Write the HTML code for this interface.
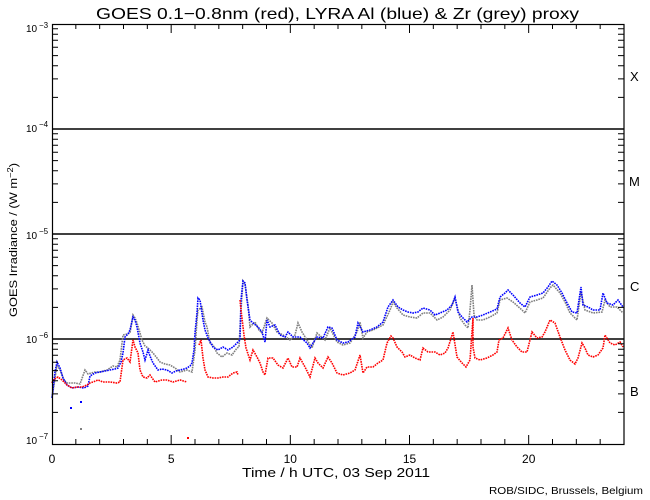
<!DOCTYPE html>
<html>
<head>
<meta charset="utf-8">
<style>
html,body{margin:0;padding:0;background:#fff;}
svg{display:block;}
text{font-family:"Liberation Sans",sans-serif;fill:#000;}
</style>
</head>
<body>
<svg width="650" height="500" viewBox="0 0 650 500" xmlns="http://www.w3.org/2000/svg">
<rect width="650" height="500" fill="#fff"/>

<!-- Title -->
<text x="96" y="19" font-size="16" textLength="483" lengthAdjust="spacingAndGlyphs">GOES 0.1−0.8nm (red), LYRA Al (blue) &amp; Zr (grey) proxy</text>

<!-- Decade lines -->
<g stroke="#000" stroke-width="1.6">
<line x1="52" y1="129" x2="624" y2="129"/>
<line x1="52" y1="234" x2="624" y2="234"/>
<line x1="52" y1="339" x2="624" y2="339"/>
</g>

<!-- Data -->
<g fill="none" stroke-width="1.6" stroke-dasharray="1.6 0.9">
<polyline stroke="#7f7f7f" points="52,397 54,385 57,365 60,370 64,380 67,383 75,383 80,384 85,370 88,374 95,372 100,372 107,370 113,366 117,367 120,360 123,335 127,334 130,333 133,315 135,318 137,323 140,333 142,340 145,346 148,348 153,353 157,358 160,362 165,364 170,365 175,368 180,372 187,370 192,372 195,350 197,320 198,310 202,307 205,322 207,327 210,343 213,345 217,353 222,357 227,353 232,355 237,348 239,347 241,310 243,281 245,284 248,305 250,327 255,322 259,330 262,333 267,318 272,323 277,332 283,335 290,340 295,335 298,323 302,332 307,340 312,348 317,333 325,340 330,328 337,342 343,345 350,343 357,332 360,322 363,338 367,332 373,330 383,325 390,310 393,302 397,308 403,315 410,317 417,318 423,313 430,313 437,320 443,317 450,310 455,298 460,318 465,325 468,328 470,310 472,285 474,315 477,320 483,320 490,317 497,313 500,300 507,298 513,302 522,310 525,313 530,302 537,300 543,298 550,288 553,285 560,293 565,302 570,313 577,320 581,292 585,310 593,313 602,312 605,300 610,307 617,307 623,313"/>
<polyline stroke="#0000ff" points="52,398 53,390 55,372 57,362 60,368 63,378 67,385 72,388 78,387 84,388 88,386 90,376 95,373 100,372 105,371 110,370 115,369 118,368 121,362 123,353 125,337 128,334 130,330 133,317 135,320 137,327 140,343 143,352 145,360 148,350 150,356 153,363 158,370 162,369 167,370 172,373 176,371 180,370 184,369 187,368 190,366 192,363 194,350 195,333 197,313 198,298 200,300 203,320 205,330 208,338 213,347 218,350 223,347 228,350 233,347 238,342 240,340 241,300 243,281 245,283 247,300 250,320 253,323 258,327 262,332 265,342 267,320 270,327 275,325 280,335 285,337 288,332 293,337 300,337 307,343 310,348 313,343 317,337 323,338 328,327 332,328 337,340 343,343 348,342 355,337 358,323 363,332 370,330 377,327 383,322 388,307 393,300 398,307 403,310 408,312 413,313 418,312 423,308 430,310 435,315 440,313 447,310 452,305 455,297 458,312 462,317 467,322 472,317 477,317 483,315 490,312 497,309 500,297 505,293 508,290 513,295 520,303 525,307 530,297 537,295 543,293 548,287 552,281 557,285 562,293 567,303 572,312 577,313 581,287 583,305 588,307 593,310 600,310 603,293 607,303 613,305 618,300 623,307"/>
<polyline stroke="#ff0000" points="52,383 53,380 58,377 62,380 67,385 72,388 77,387 82,387 87,385 90,383 93,382 98,380 103,382 110,382 117,383 120,382 123,360 127,358 130,362 133,340 135,347 138,353 140,370 143,377 147,378 150,375 155,382 162,380 167,380 173,382 180,380 187,382"/>
<polyline stroke="#ff0000" points="199,345 201,340 203,358 205,370 208,377 213,378 218,378 223,377 228,377 233,373 237,372 238,375"/>
<polyline stroke="#ff0000" points="240,300 241,310 244,335 246,348 250,360 253,350 257,357 260,363 263,372 265,375 268,358 273,358 278,365 283,368 288,358 292,367 297,367 300,358 305,367 310,377 315,358 318,363 323,368 328,357 332,363 337,373 343,375 350,373 355,370 360,355 363,373 367,367 373,367 378,363 383,360 387,343 391,336 393,338 397,347 402,352 405,357 410,355 415,358 420,360 423,348 428,352 435,352 440,355 445,353 448,348 453,332 457,357 462,363 466,367 470,360 473,318 473,347 475,358 480,360 487,358 493,355 497,352 499,340 503,338 508,328 512,340 517,347 522,352 527,352 532,332 537,338 542,337 545,332 550,320 555,323 560,337 565,350 570,360 575,364 578,358 582,343 585,348 588,355 593,357 598,355 603,348 605,335 610,343 615,345 620,342 623,347"/>
</g>
<!-- isolated dots -->
<rect x="70" y="407" width="2" height="2" fill="#0000ff"/>
<rect x="80" y="401" width="2" height="2" fill="#0000ff"/>
<rect x="80" y="428" width="2" height="2" fill="#7f7f7f"/>
<rect x="187" y="437" width="2" height="2" fill="#ff0000"/>

<!-- Axes box -->
<rect x="52.5" y="24.5" width="571.5" height="420" fill="none" stroke="#000" stroke-width="1.2"/>

<!-- Ticks -->
<g stroke="#000" stroke-width="1">
<path d="M52.5 444v-9M75.83 444v-5M99.67 444v-5M123.5 444v-5M147.33 444v-5M171.17 444v-9M195 444v-5M218.83 444v-5M242.67 444v-5M266.5 444v-5M290.33 444v-9M314.17 444v-5M338 444v-5M361.83 444v-5M385.67 444v-5M409.5 444v-9M433.33 444v-5M457.17 444v-5M481 444v-5M504.83 444v-5M528.67 444v-9M552.5 444v-5M576.33 444v-5M600.17 444v-5"/>
<path d="M52.5 24v9M75.83 24v5M99.67 24v5M123.5 24v5M147.33 24v5M171.17 24v9M195 24v5M218.83 24v5M242.67 24v5M266.5 24v5M290.33 24v9M314.17 24v5M338 24v5M361.83 24v5M385.67 24v5M409.5 24v9M433.33 24v5M457.17 24v5M481 24v5M504.83 24v5M528.67 24v9M552.5 24v5M576.33 24v5M600.17 24v5"/>
<path d="M52 412.4h6M52 393.9h6M52 380.8h6M52 370.6h6M52 362.3h6M52 355.3h6M52 349.2h6M52 343.8h6
M52 307.4h6M52 288.9h6M52 275.8h6M52 265.6h6M52 257.3h6M52 250.3h6M52 244.2h6M52 238.8h6
M52 202.4h6M52 183.9h6M52 170.8h6M52 160.6h6M52 152.3h6M52 145.3h6M52 139.2h6M52 133.8h6
M52 97.4h6M52 78.9h6M52 65.8h6M52 55.6h6M52 47.3h6M52 40.3h6M52 34.2h6M52 28.8h6"/>
<path d="M624 412.4h-6M624 393.9h-6M624 380.8h-6M624 370.6h-6M624 362.3h-6M624 355.3h-6M624 349.2h-6M624 343.8h-6
M624 307.4h-6M624 288.9h-6M624 275.8h-6M624 265.6h-6M624 257.3h-6M624 250.3h-6M624 244.2h-6M624 238.8h-6
M624 202.4h-6M624 183.9h-6M624 170.8h-6M624 160.6h-6M624 152.3h-6M624 145.3h-6M624 139.2h-6M624 133.8h-6
M624 97.4h-6M624 78.9h-6M624 65.8h-6M624 55.6h-6M624 47.3h-6M624 40.3h-6M624 34.2h-6M624 28.8h-6"/>
</g>

<!-- Y tick labels -->
<g font-size="10">
<text x="26" y="32">10</text><text x="39" y="28" font-size="8">−3</text>
<text x="26" y="132">10</text><text x="39" y="127" font-size="8">−4</text>
<text x="26" y="239">10</text><text x="39" y="234" font-size="8">−5</text>
<text x="26" y="343">10</text><text x="39" y="338" font-size="8">−6</text>
<text x="26" y="444">10</text><text x="39" y="439" font-size="8">−7</text>
</g>

<!-- X tick labels -->
<g font-size="12" text-anchor="middle">
<text x="52" y="463">0</text>
<text x="171.2" y="463">5</text>
<text x="290.3" y="463">10</text>
<text x="409.5" y="463">15</text>
<text x="528.7" y="463">20</text>
</g>

<!-- X axis title -->
<text x="242" y="477" font-size="12.5" textLength="188" lengthAdjust="spacingAndGlyphs">Time / h UTC, 03 Sep 2011</text>

<!-- Y axis title -->
<text transform="translate(17,317) rotate(-90)" font-size="11" textLength="154" lengthAdjust="spacingAndGlyphs">GOES Irradiance / (W m<tspan font-size="8" dy="-4">−2</tspan><tspan dy="4">)</tspan></text>

<!-- Class labels -->
<g font-size="13">
<text x="630" y="81">X</text>
<text x="629" y="186">M</text>
<text x="630" y="291">C</text>
<text x="630" y="396">B</text>
</g>

<!-- Credit -->
<text x="489" y="494" font-size="10" textLength="154" lengthAdjust="spacingAndGlyphs">ROB/SIDC, Brussels, Belgium</text>
</svg>
</body>
</html>
